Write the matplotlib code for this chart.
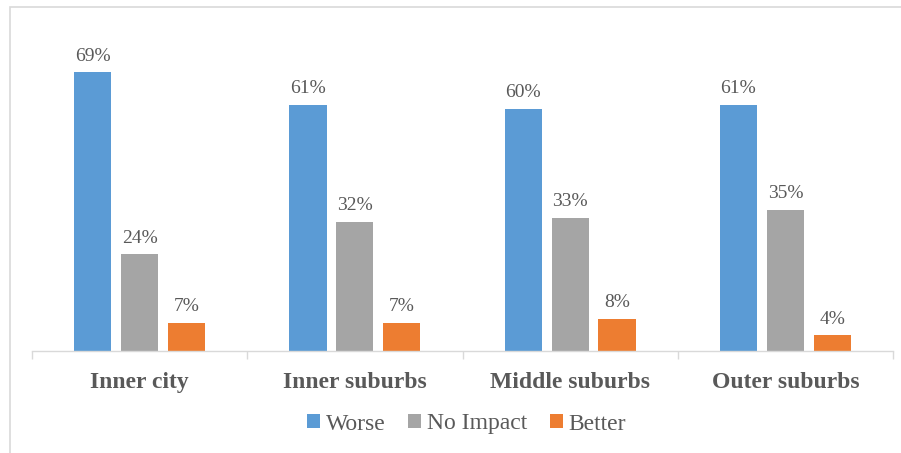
import numpy as np
import matplotlib.pyplot as plt
from matplotlib.patches import Rectangle

# Data
categories = ['Inner city', 'Inner suburbs', 'Middle suburbs', 'Outer suburbs']
worse = [69, 61, 60, 61]
no_impact = [24, 32, 33, 35]
better = [7, 7, 8, 4]

series = [('Worse', worse, '#5B9BD5'),
          ('No Impact', no_impact, '#A5A5A5'),
          ('Better', better, '#ED7D31')]

plt.rcParams['font.family'] = ['Liberation Serif', 'DejaVu Serif']
text_color = '#595959'

fig = plt.figure(figsize=(9.01, 4.53), dpi=100)
ax = fig.add_axes([32 / 901, 1 - 351 / 453, (893 - 32) / 901, 323 / 453])

x = np.arange(len(categories))
width = 0.173
offset = 0.218

for i, (name, vals, color) in enumerate(series):
    pos = x + (i - 1) * offset
    bars = ax.bar(pos, vals, width, color=color, label=name)
    for b, v in zip(bars, vals):
        ax.text(b.get_x() + b.get_width() / 2, v + 2.8, f'{v}%',
                ha='center', va='baseline', fontsize=14, color=text_color)

ax.set_xlim(-0.5, len(categories) - 0.5)
ax.set_ylim(0, 80)
ax.set_yticks([])
ax.set_xticks(np.arange(len(categories) + 1) - 0.5, minor=True)
ax.set_xticks(x)
ax.set_xticklabels(categories, fontsize=17, fontweight='bold', color=text_color)
ax.tick_params(axis='x', which='major', length=0, pad=15)
ax.tick_params(axis='x', which='minor', length=6, color='#D9D9D9', width=1)
for s in ['top', 'right', 'left']:
    ax.spines[s].set_visible(False)
ax.spines['bottom'].set_color('#D9D9D9')
ax.spines['bottom'].set_linewidth(1)

leg = fig.legend(loc='center', bbox_to_anchor=(0.518, 1 - 424 / 453), ncol=3,
                 frameon=False, fontsize=17, handlelength=0.55, handleheight=0.55,
                 handletextpad=0.25, columnspacing=0.95)
for t in leg.get_texts():
    t.set_color(text_color)

# chart frame
fig.patches.append(Rectangle((10 / 901, -0.1), 1.1, 1 - 7 / 453 + 0.1,
                             transform=fig.transFigure, fill=False,
                             edgecolor='#D9D9D9', linewidth=1.2))

fig.savefig('out.png', dpi=100)
